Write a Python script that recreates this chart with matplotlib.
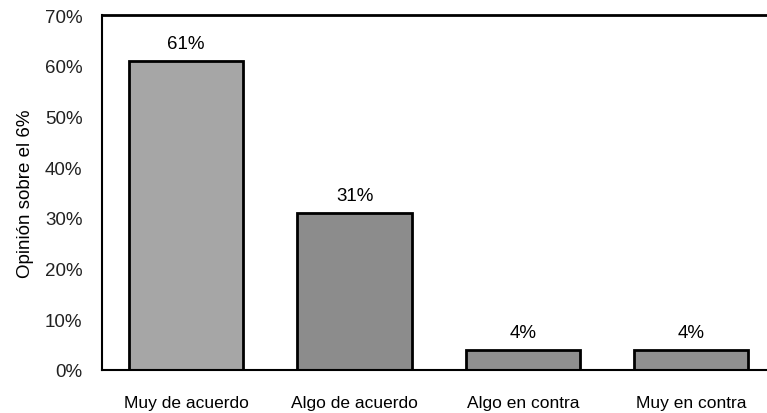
import matplotlib.pyplot as plt
from matplotlib.ticker import FuncFormatter

plt.rcParams['font.family'] = ['Liberation Sans', 'DejaVu Sans']

categorias = ["Muy de acuerdo", "Algo de acuerdo", "Algo en contra", "Muy en contra"]
valores = [61, 31, 4, 4]
colores = ["#a6a6a6", "#8c8c8c", "#8f8f8f", "#8f8f8f"]
yticks = [0, 10, 20, 30, 40, 50, 60, 70]

fig = plt.figure(figsize=(7.67, 4.14), dpi=100)
ax = fig.add_axes([0.133, 0.104, 0.867, 0.857])

x = range(len(categorias))
bars = ax.bar(x, valores, width=0.68, color=colores, edgecolor="black", linewidth=2)

for b, v in zip(bars, valores):
    ax.annotate(f"{v}%", (b.get_x() + b.get_width() / 2, v), xytext=(0, 6),
                textcoords="offset points", ha="center", va="bottom", fontsize=13.5)

ax.set_xlim(-0.5, 3.45)
ax.set_ylim(0, 70)
ax.set_yticks(yticks)
ax.yaxis.set_major_formatter(FuncFormatter(lambda v, p: f"{v:.0f}%"))
ax.set_xticks(list(x))
ax.set_xticklabels(categorias, fontsize=12.5)
ax.tick_params(axis="y", length=0, pad=14, labelsize=13.5, labelcolor="#222222")
ax.tick_params(axis="x", length=0, pad=18)
ax.set_ylabel("Opinión sobre el 6%", fontsize=13.5, labelpad=8)

ax.spines["right"].set_visible(False)
ax.spines["top"].set_linewidth(2)
ax.spines["left"].set_linewidth(1.5)
ax.spines["bottom"].set_linewidth(1.5)

fig.savefig("out.png", dpi=100)
